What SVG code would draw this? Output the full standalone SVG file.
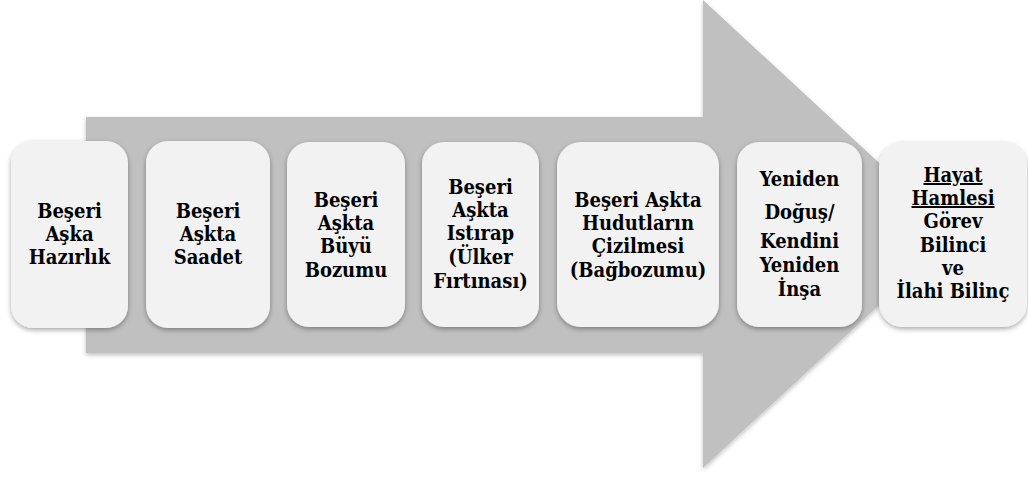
<svg xmlns="http://www.w3.org/2000/svg" width="1028" height="477" viewBox="0 0 1028 477">
<style>
.box{fill:#f2f2f2;filter:url(#sh);}
.t{font-family:'DejaVu Serif','Liberation Serif',serif;font-stretch:condensed;font-weight:bold;font-size:20px;fill:#000;text-anchor:middle;}
.u{text-decoration:underline;}
</style>
<defs>
<filter id="sh" x="-20%" y="-20%" width="140%" height="140%">
<feDropShadow dx="0" dy="2" stdDeviation="2.5" flood-color="#000" flood-opacity="0.35"/>
</filter>
<filter id="ash" x="-5%" y="-5%" width="110%" height="110%">
<feDropShadow dx="0" dy="2" stdDeviation="2" flood-color="#000" flood-opacity="0.25"/>
</filter>
</defs>
<g id="connectors">
<polygon id="arrow" points="86,117 703,117 703,0 956,234 703,468 703,353 86,353" fill="#c0c0c0" filter="url(#ash)"/>
</g>
<g id="n1"><rect class="box" x="11" y="141" width="117" height="187" rx="22"/>
<text class="t" x="69.5" y="218">Beşeri</text><text class="t" x="69.5" y="241">Aşka</text><text class="t" x="69.5" y="264">Hazırlık</text></g>
<g id="n2"><rect class="box" x="146" y="141" width="124" height="187" rx="22"/>
<text class="t" x="208" y="218">Beşeri</text><text class="t" x="208" y="241">Aşkta</text><text class="t" x="208" y="264">Saadet</text></g>
<g id="n3"><rect class="box" x="287" y="142" width="118" height="185" rx="22"/>
<text class="t" x="346" y="207">Beşeri</text><text class="t" x="346" y="230">Aşkta</text><text class="t" x="346" y="253">Büyü</text><text class="t" x="346" y="277">Bozumu</text></g>
<g id="n4"><rect class="box" x="422" y="142" width="117" height="185" rx="22"/>
<text class="t" x="480.5" y="194">Beşeri</text><text class="t" x="480.5" y="217">Aşkta</text><text class="t" x="480.5" y="240">Istırap</text><text class="t" x="480.5" y="264">(Ülker</text><text class="t" x="480.5" y="288">Fırtınası)</text></g>
<g id="n5"><rect class="box" x="557" y="142" width="162" height="185" rx="24"/>
<text class="t" x="638" y="207">Beşeri Aşkta</text><text class="t" x="638" y="230">Hudutların</text><text class="t" x="638" y="253">Çizilmesi</text><text class="t" x="638" y="277">(Bağbozumu)</text></g>
<g id="n6"><rect class="box" x="737" y="142" width="125" height="185" rx="22"/>
<text class="t" x="799.5" y="186">Yeniden</text><text class="t" x="799.5" y="219">Doğuş/</text><text class="t" x="799.5" y="248">Kendini</text><text class="t" x="799.5" y="272">Yeniden</text><text class="t" x="799.5" y="296">İnşa</text></g>
<g id="n7"><rect class="box" x="879" y="142" width="148" height="185" rx="24"/>
<text class="t u" x="953" y="182">Hayat</text><text class="t u" x="953" y="205">Hamlesi</text><text class="t" x="953" y="228">Görev</text><text class="t" x="953" y="252">Bilinci</text><text class="t" x="953" y="275">ve</text><text class="t" x="953" y="298">İlahi Bilinç</text></g>
</svg>
